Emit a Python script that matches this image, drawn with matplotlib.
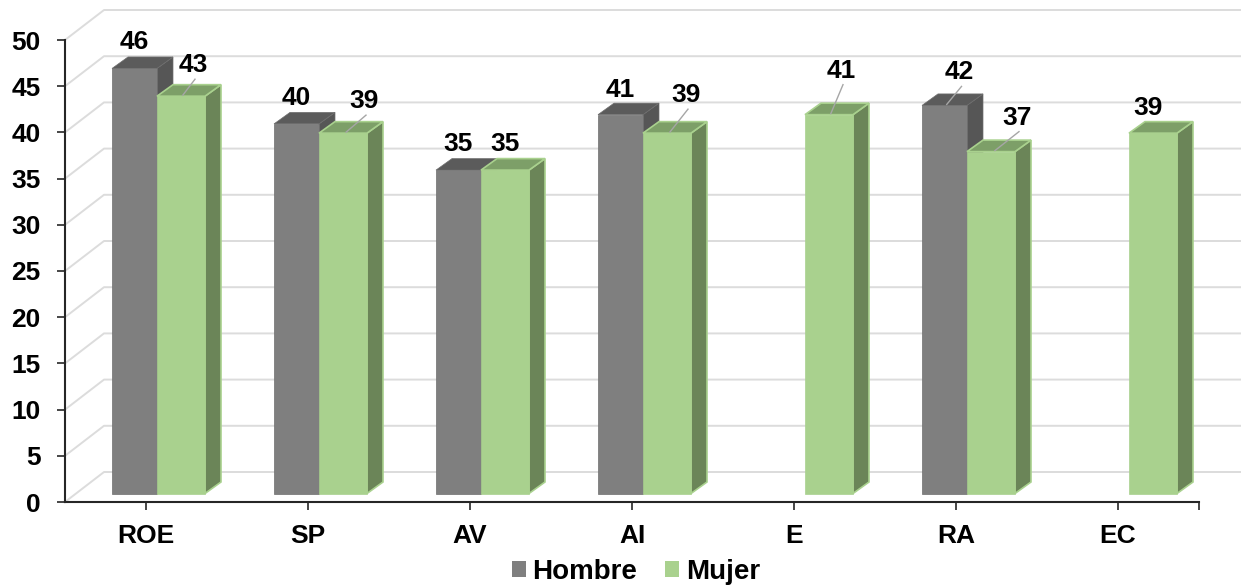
import numpy as np
import matplotlib
matplotlib.use("Agg")
import matplotlib.pyplot as plt
from matplotlib.patches import Polygon, Patch

plt.rcParams['font.family'] = ['Liberation Sans', 'DejaVu Sans']
plt.rcParams['font.weight'] = 'bold'

categories = ["ROE", "SP", "AV", "AI", "E", "RA", "EC"]
hombre = [46, 40, 35, 41, np.nan, 42, np.nan]
mujer = [43, 39, 35, 39, 41, 37, 39]
y_ticks = [0, 5, 10, 15, 20, 25, 30, 35, 40, 45, 50]

# label offset from bar front-top centre, in px, and whether a leader is drawn
hombre_label = [(0, 26, False), (0, 26, False), (0, 26, False), (0, 25, False), None, (15, 33, True), None]
mujer_label = [(12, 31, True), (21, 32, True), (0, 26, False), (19, 38, True), (12, 44, True), (26, 34, True), (-5, 25, False)]

W, H = 1241, 588
fig = plt.figure(figsize=(W / 100, H / 100), dpi=100, facecolor='white')
L, R, T, B = 65, 1199, 40, 502
ax = fig.add_axes([L / W, 1 - B / H, (R - L) / W, (B - T) / H])
ax.set_xlim(-0.5, 6.5)
ax.set_ylim(0, 50)
ax.patch.set_visible(False)

px = (R - L) / 7          # px per category
py = (B - T) / 50         # px per value unit
def dx(p): return p / px
def dy(p): return p / py

GRID = '#dcdcdc'
WX, WY = dx(39), dy(30)
for v in y_ticks:
    ax.plot([-0.5, -0.5 + WX, -0.5 + dx(1241 - L)], [v, v + WY, v + WY],
            color=GRID, lw=1.4, clip_on=False, zorder=1)

DEPTH_X, DEPTH_Y = dx(16), dy(11.5)
BASE = dy(8.5)

def bar3d(i, v, x0p, x1p, front, top, side, edge, elw, z):
    if np.isnan(v):
        return
    x0, x1 = i + dx(x0p), i + dx(x1p)
    y1 = BASE + v
    ax.add_patch(Polygon([(x1, BASE), (x1 + DEPTH_X, BASE + DEPTH_Y), (x1 + DEPTH_X, y1 + DEPTH_Y), (x1, y1)],
                         closed=True, fc=side, ec=edge, lw=elw, clip_on=False, zorder=z))
    ax.add_patch(Polygon([(x0, y1), (x0 + DEPTH_X, y1 + DEPTH_Y), (x1 + DEPTH_X, y1 + DEPTH_Y), (x1, y1)],
                         closed=True, fc=top, ec=edge, lw=elw, clip_on=False, zorder=z))
    ax.bar((x0 + x1) / 2, v, width=x1 - x0, bottom=BASE, color=front, edgecolor=edge, lw=0.5,
           clip_on=False, zorder=z + 0.1)

def label(i, v, xc, spec):
    if spec is None or np.isnan(v):
        return
    ox, oy, leader = spec
    xc_d = i + dx(xc)
    y_top = BASE + v
    if leader:
        ax.plot([xc_d + dx(ox * 0.15), xc_d + dx(ox + 2)], [y_top + dy(1), y_top + dy(oy - 14)],
                color='#a6a6a6', lw=1, clip_on=False, zorder=6)
    ax.text(xc_d + dx(ox), y_top + dy(oy), f"{int(v)}", ha='center', va='center', fontsize=19,
            fontweight='bold', color='black', zorder=7, clip_on=False)

for i in range(len(categories)):
    bar3d(i, hombre[i], -34, 11, '#7f7f7f', '#5b5b5b', '#565656', '#6e6e6e', 0.5, 3)
    bar3d(i, mujer[i], 11, 59, '#a9d18e', '#7d9f68', '#6b8558', '#a9d18e', 1.2, 4)
for i in range(len(categories)):
    label(i, hombre[i], -11.5, hombre_label[i])
    label(i, mujer[i], 35, mujer_label[i])

for s in ('top', 'right'):
    ax.spines[s].set_visible(False)
for s in ('left', 'bottom'):
    ax.spines[s].set_linewidth(1.5)
    ax.spines[s].set_color('#262626')
    ax.spines[s].set_zorder(5)
ax.set_xticks(range(len(categories)), categories)
ax.set_xticks([6.5], minor=True)
ax.set_yticks(y_ticks)
ax.tick_params(axis='x', which='both', length=5.5, width=1.2, color='#262626', pad=10, labelsize=19)
ax.tick_params(axis='y', length=5.5, width=1.2, color='#262626', pad=12, labelsize=19)

fig.legend(handles=[Patch(fc='#7f7f7f', label='Hombre'), Patch(fc='#a9d18e', label='Mujer')],
           loc='center', bbox_to_anchor=(636 / W, 1 - 572 / H), ncol=2, frameon=False,
           fontsize=20, handlelength=0.5, handleheight=0.5, handletextpad=0.25,
           columnspacing=1.0, borderpad=0, borderaxespad=0)

fig.savefig('out.png', dpi=100)
